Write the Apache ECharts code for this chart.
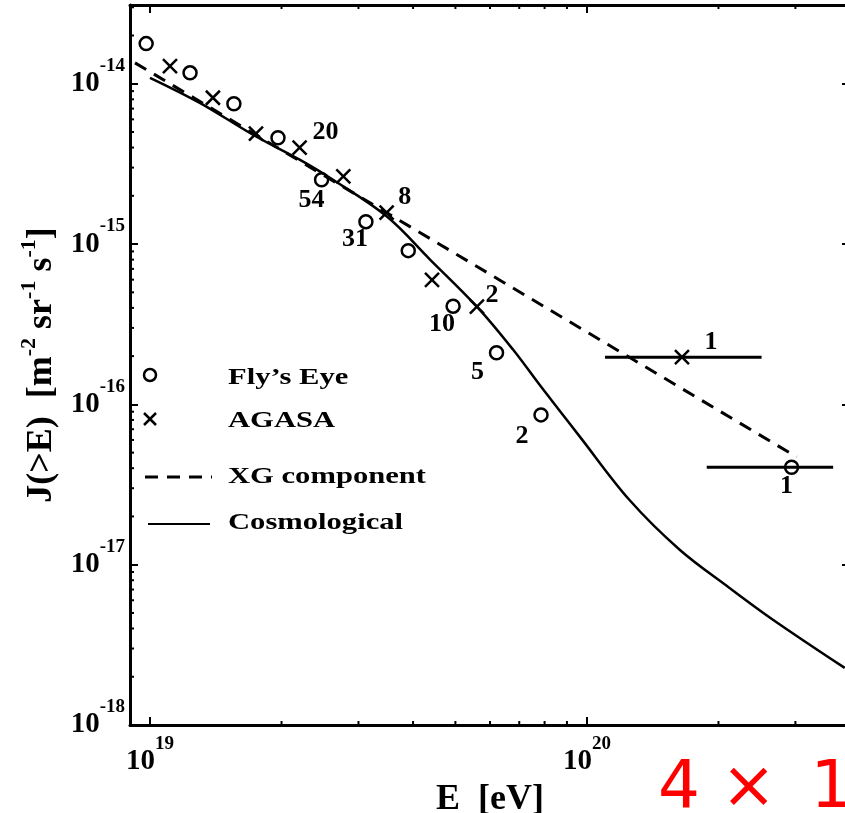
<!DOCTYPE html>
<html>
<head>
<meta charset="utf-8">
<script src="https://cdn.jsdelivr.net/npm/echarts@6/dist/echarts.min.js"></script>
<style>
html, body { margin: 0; padding: 0; background: #fff; }
#container { width: 845px; height: 813px; }
</style>
</head>
<body>
<div id="container"></div>
<script>
// Fly's Eye points (E in eV, J(>E) in m^-2 sr^-1 s^-1) and event counts
var flyE = [9.8e18, 1.235e19, 1.556e19, 1.963e19, 2.47e19, 3.12e19, 3.90e19, 4.94e19, 6.21e19, 7.85e19, 2.94e20];
var flyJ = [1.78e-14, 1.17e-14, 7.5e-15, 4.6e-15, 2.52e-15, 1.38e-15, 9.1e-16, 4.1e-16, 2.1e-16, 8.6e-17, 4.05e-17];
var flyN = ['', '', '', '', '54', '31', '', '10', '5', '2', '1'];

// AGASA points and event counts
var agasaE = [1.111e19, 1.393e19, 1.748e19, 2.20e19, 2.77e19, 3.48e19, 4.42e19, 5.60e19, 1.65e20];
var agasaJ = [1.29e-14, 8.18e-15, 4.88e-15, 3.99e-15, 2.64e-15, 1.57e-15, 5.98e-16, 4.07e-16, 1.97e-16];
var agasaN = ['', '', '', '20', '', '8', '', '2', '1'];

// horizontal error bars (energy bins of the single-event points)
var errLo = [1.10e20, 1.88e20];
var errHi = [2.51e20, 3.66e20];
var errJ = [1.97e-16, 4.05e-17];

// XG component (dashed)
var xgE = [9.24e18, 3.02e20];
var xgJ = [1.35e-14, 4.70e-17];

// Cosmological (solid)
var cosmoE = [1.0e19, 1.30e19, 1.72e19, 2.20e19, 2.58e19, 3.48e19, 4.38e19, 5.60e19, 6.78e19, 7.80e19, 8.59e19, 9.64e19, 1.25e20, 1.63e20, 2.12e20, 2.67e20, 3.89e20];
var cosmoJ = [1.09e-14, 7.6e-15, 4.81e-15, 3.36e-15, 2.59e-15, 1.49e-15, 7.98e-16, 4.07e-16, 2.19e-16, 1.32e-16, 9.4e-17, 6.27e-17, 2.54e-17, 1.24e-17, 7.16e-18, 4.52e-18, 2.27e-18];

// axis ranges
var xMin = 9e18, xMax = 4e20;
var yMin = 1e-18, yMax = 3.1e-14;

// label offsets for the count numbers (style only)
var flyLabelOffset = { 4: [-10, 21], 5: [-11, 18], 7: [-11, 18], 8: [-19, 20], 9: [-19, 21], 10: [-5, 19] };
var agasaLabelOffset = { 3: [26, -15], 5: [18, -15], 7: [15, -11], 8: [29, -15] };

var serif = '"Liberation Serif", "Times New Roman", serif';

function zip(a, b) {
    return a.map(function (v, i) { return [v, b[i]]; });
}

function minorValues(lo, hi) {
    var out = [];
    for (var e = Math.floor(Math.log10(lo)); e <= Math.ceil(Math.log10(hi)); e++) {
        for (var k = 2; k <= 9; k++) {
            var v = k * Math.pow(10, e);
            if (v > lo * 1.0001 && v < hi * 0.9999) out.push(v);
        }
    }
    return out;
}

function powLabel(v) {
    var e = Math.log10(v);
    var r = Math.round(e);
    if (Math.abs(e - r) > 1e-6) return '';
    return '{b|10}{s|' + r + '}';
}

var labelRich = {
    b: { fontFamily: serif, fontWeight: 'bold', fontSize: 29, lineHeight: 54, color: '#000' },
    s: { fontFamily: serif, fontWeight: 'bold', fontSize: 19, lineHeight: 19, verticalAlign: 'top', color: '#000' }
};

var countLabel = {
    show: true,
    position: 'inside',
    color: '#000',
    opacity: 1,
    fontFamily: serif,
    fontWeight: 'bold',
    fontSize: 26
};

function pointItems(E, J, N, offsets) {
    return E.map(function (e, i) {
        var item = { value: [e, J[i]] };
        if (N[i]) {
            item.label = Object.assign({}, countLabel, { formatter: N[i], offset: offsets[i] || [0, 0] });
        }
        return item;
    });
}

var frameLine = { show: true, lineStyle: { color: '#000', width: 3 } };
var majorTick = { show: true, inside: true, length: 8, lineStyle: { color: '#000', width: 2 } };

var dom = document.getElementById('container');
var myChart = echarts.init(dom, null, { renderer: 'canvas' });

var option = {
    backgroundColor: '#fff',
    animation: false,
    grid: {
        left: 130,
        top: 5,
        right: -5,
        bottom: 88,
        containLabel: false,
        outerBoundsMode: 'none'
    },
    xAxis: [{
        type: 'log',
        logBase: 10,
        min: xMin,
        max: xMax,
        position: 'bottom',
        axisLine: frameLine,
        axisTick: majorTick,
        splitLine: { show: false },
        axisLabel: {
            margin: 10,
            formatter: powLabel,
            rich: labelRich
        },
        name: 'E  [eV]',
        nameLocation: 'middle',
        nameGap: 34,
        nameTextStyle: { fontFamily: serif, fontWeight: 'bold', fontSize: 36, color: '#000' }
    }, {
        type: 'log',
        logBase: 10,
        min: xMin,
        max: xMax,
        position: 'top',
        axisLine: frameLine,
        axisTick: majorTick,
        splitLine: { show: false },
        axisLabel: { show: false }
    }],
    yAxis: [{
        type: 'log',
        logBase: 10,
        min: yMin,
        max: yMax,
        position: 'left',
        axisLine: frameLine,
        axisTick: majorTick,
        splitLine: { show: false },
        axisLabel: {
            margin: 5,
            formatter: powLabel,
            rich: labelRich
        },
        name: '{b|J(>E)  [m}{s|-2}{b| sr}{s|-1}{b| s}{s|-1}{b|]}',
        nameLocation: 'middle',
        nameGap: 61,
        nameTextStyle: {
            rich: {
                b: { fontFamily: serif, fontWeight: 'bold', fontSize: 36, lineHeight: 46, color: '#000' },
                s: { fontFamily: serif, fontWeight: 'bold', fontSize: 22, lineHeight: 22, verticalAlign: 'top', color: '#000' }
            }
        }
    }, {
        type: 'log',
        logBase: 10,
        min: yMin,
        max: yMax,
        position: 'right',
        axisLine: frameLine,
        axisTick: majorTick,
        splitLine: { show: false },
        axisLabel: { show: false }
    }],
    series: [
        {
            name: 'x minor ticks',
            type: 'custom',
            silent: true,
            clip: false,
            data: minorValues(xMin, xMax).map(function (v) { return [v, yMin]; }),
            renderItem: function (params, api) {
                var p = api.coord([api.value(0), api.value(1)]);
                var r = params.coordSys;
                var st = { stroke: '#000', lineWidth: 2 };
                return {
                    type: 'group',
                    children: [
                        { type: 'line', shape: { x1: p[0], y1: r.y + r.height, x2: p[0], y2: r.y + r.height - 4 }, style: st },
                        { type: 'line', shape: { x1: p[0], y1: r.y, x2: p[0], y2: r.y + 4 }, style: st }
                    ]
                };
            }
        },
        {
            name: 'y minor ticks',
            type: 'custom',
            silent: true,
            clip: false,
            data: minorValues(yMin, yMax).map(function (v) { return [xMin, v]; }),
            renderItem: function (params, api) {
                var p = api.coord([api.value(0), api.value(1)]);
                var r = params.coordSys;
                var st = { stroke: '#000', lineWidth: 2 };
                return {
                    type: 'group',
                    children: [
                        { type: 'line', shape: { x1: r.x, y1: p[1], x2: r.x + 4, y2: p[1] }, style: st },
                        { type: 'line', shape: { x1: r.x + r.width, y1: p[1], x2: r.x + r.width - 4, y2: p[1] }, style: st }
                    ]
                };
            }
        },
        {
            name: 'XG component',
            type: 'line',
            data: zip(xgE, xgJ),
            showSymbol: false,
            lineStyle: { color: '#000', width: 3, type: [13, 9] },
            z: 2
        },
        {
            name: 'Cosmological',
            type: 'line',
            data: zip(cosmoE, cosmoJ),
            showSymbol: false,
            smooth: 0.35,
            lineStyle: { color: '#000', width: 2.5 },
            z: 2
        },
        {
            name: 'error bars',
            type: 'custom',
            data: errLo.map(function (v, i) { return [v, errHi[i], errJ[i]]; }),
            encode: { x: [0, 1], y: 2 },
            renderItem: function (params, api) {
                var p1 = api.coord([api.value(0), api.value(2)]);
                var p2 = api.coord([api.value(1), api.value(2)]);
                return {
                    type: 'line',
                    shape: { x1: p1[0], y1: p1[1], x2: p2[0], y2: p2[1] },
                    style: { stroke: '#000', lineWidth: 3 }
                };
            },
            z: 3
        },
        {
            name: "Fly's Eye",
            type: 'scatter',
            data: pointItems(flyE, flyJ, flyN, flyLabelOffset),
            symbol: 'circle',
            symbolSize: 13,
            itemStyle: { color: 'transparent', borderColor: '#000', borderWidth: 2.5, opacity: 1 },
            z: 4
        },
        {
            name: 'AGASA',
            type: 'scatter',
            data: pointItems(agasaE, agasaJ, agasaN, agasaLabelOffset),
            symbol: 'path://M0,0L10,10M10,0L0,10',
            symbolSize: 14,
            itemStyle: { color: 'transparent', borderColor: '#000', borderWidth: 2.5, opacity: 1 },
            z: 4
        }
    ],
    graphic: [
        { type: 'circle', shape: { cx: 150, cy: 375, r: 6 }, style: { fill: 'none', stroke: '#000', lineWidth: 2.5 } },
        { type: 'line', shape: { x1: 144, y1: 413, x2: 156, y2: 425 }, style: { stroke: '#000', lineWidth: 2.5 } },
        { type: 'line', shape: { x1: 156, y1: 413, x2: 144, y2: 425 }, style: { stroke: '#000', lineWidth: 2.5 } },
        { type: 'line', shape: { x1: 145, y1: 477, x2: 212, y2: 477 }, style: { stroke: '#000', lineWidth: 3, lineDash: [13, 9] } },
        { type: 'line', shape: { x1: 148, y1: 524, x2: 210, y2: 524 }, style: { stroke: '#000', lineWidth: 2 } },
        { type: 'text', x: 228, y: 378, scaleX: 1.33, style: { text: 'Fly\u2019s Eye', font: 'bold 23px ' + serif, fill: '#000', verticalAlign: 'middle' } },
        { type: 'text', x: 228, y: 421, scaleX: 1.33, style: { text: 'AGASA', font: 'bold 23px ' + serif, fill: '#000', verticalAlign: 'middle' } },
        { type: 'text', x: 228, y: 477, scaleX: 1.33, style: { text: 'XG component', font: 'bold 23px ' + serif, fill: '#000', verticalAlign: 'middle' } },
        { type: 'text', x: 228, y: 523, scaleX: 1.33, style: { text: 'Cosmological', font: 'bold 23px ' + serif, fill: '#000', verticalAlign: 'middle' } },
        { type: 'text', x: 658, y: 757, style: { text: '4 \u00d7 \u200910', font: '66px "DejaVu Sans", sans-serif', fill: '#ff0000' } }
    ]
};

if (option && typeof option === 'object') {
    myChart.setOption(option, true);
}
</script>
</body>
</html>
